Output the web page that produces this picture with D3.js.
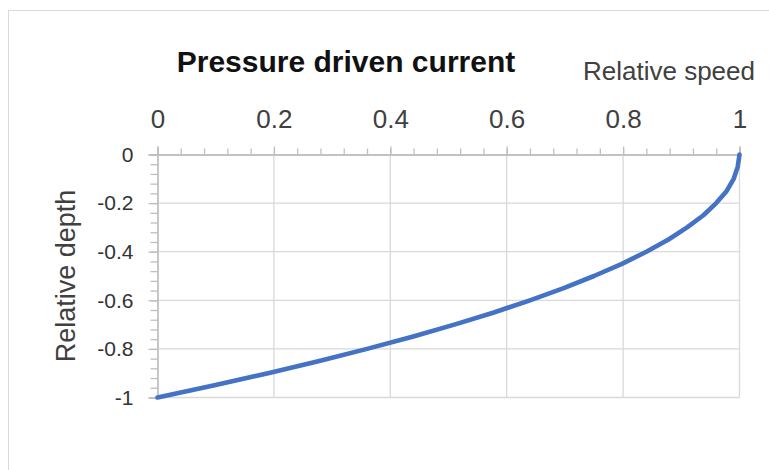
<!DOCTYPE html>
<html lang="en">
  <head>
    <meta charset="UTF-8" />
    <title>Pressure driven current</title>
    <style>
      body {
        margin: 0;
        background: #fff;
      }
      text {
        font-family: "Liberation Sans", Arial, sans-serif;
      }
    </style>
  </head>
  <body>
    <div id="chart"></div>

    <script src="https://cdn.jsdelivr.net/npm/d3@7"></script>

    <script>
      //////////////////////////////// Data ////////////////////////////////
      var depth = [0, -0.05, -0.1, -0.15, -0.2, -0.25, -0.3, -0.35, -0.4, -0.45, -0.5,
        -0.55, -0.6, -0.65, -0.7, -0.75, -0.8, -0.85, -0.9, -0.95, -1];
      var speed = [1, 0.997, 0.99, 0.978, 0.96, 0.938, 0.91, 0.878, 0.84, 0.798, 0.75,
        0.698, 0.64, 0.578, 0.51, 0.438, 0.36, 0.278, 0.19, 0.098, 0];
      var xTicks = [0, 0.2, 0.4, 0.6, 0.8, 1];
      var yTicks = [0, -0.2, -0.4, -0.6, -0.8, -1];

      var width = 769,
        height = 470;

      var svg = d3
        .select("#chart")
        .append("svg")
        .attr("width", width)
        .attr("height", height);

      svg.append("rect")
        .attr("width", width)
        .attr("height", height)
        .attr("fill", "#fff");

      //chart frame (runs off the right and bottom edge)
      svg.append("rect")
        .attr("x", 8.5)
        .attr("y", 10.5)
        .attr("width", 800)
        .attr("height", 500)
        .attr("fill", "none")
        .attr("stroke", "#d9d9d9");

      var x = d3.scaleLinear().domain([0, 1]).range([157.5, 739.5]);
      var y = d3.scaleLinear().domain([0, -1]).range([154.5, 397.5]);

      //minor ticks every 0.04
      var minor = d3.range(0, 26).map(function(i) { return i * 0.04; });
      var minorY = d3.range(0, 26).map(function(i) { return -i * 0.04; });

      ///////////////////////////// Gridlines /////////////////////////////
      svg.append("g")
        .selectAll("line")
        .data(xTicks.slice(1))
        .enter()
        .append("line")
        .attr("x1", function(d) { return x(d); })
        .attr("x2", function(d) { return x(d); })
        .attr("y1", y(0))
        .attr("y2", y(-1))
        .attr("stroke", "#d9d9d9")
        .attr("stroke-width", 1.3);

      svg.append("g")
        .selectAll("line")
        .data(yTicks.slice(1))
        .enter()
        .append("line")
        .attr("x1", x(0))
        .attr("x2", x(1))
        .attr("y1", function(d) { return y(d); })
        .attr("y2", function(d) { return y(d); })
        .attr("stroke", "#d9d9d9")
        .attr("stroke-width", 1.3);

      /////////////////////////////// Axes ///////////////////////////////
      var xMinor = svg.append("g")
        .attr("transform", "translate(0," + y(0) + ")")
        .call(d3.axisTop(x).tickValues(minor).tickSize(6).tickFormat(""));

      var xAxis = svg.append("g")
        .attr("transform", "translate(0," + y(0) + ")")
        .call(d3.axisTop(x).tickValues(xTicks).tickSize(8).tickPadding(19)
          .tickFormat(d3.format("")));

      var yMinor = svg.append("g")
        .attr("transform", "translate(" + x(0) + ",0)")
        .call(d3.axisLeft(y).tickValues(minorY).tickSize(7).tickFormat(""));

      var yAxis = svg.append("g")
        .attr("transform", "translate(" + x(0) + ",0)")
        .call(d3.axisLeft(y).tickValues(yTicks).tickSize(9).tickPadding(15)
          .tickFormat(d3.format("")));

      [xMinor, xAxis, yMinor, yAxis].forEach(function(g) {
        g.selectAll(".domain").attr("stroke", "#bfbfbf").attr("stroke-width", 1.3);
        g.selectAll(".tick line").attr("stroke", "#bfbfbf").attr("stroke-width", 1.3);
      });

      xAxis.selectAll("text")
        .style("font-size", "26px")
        .attr("fill", "#404040")
        .attr("font-family", "Liberation Sans");
      yAxis.selectAll("text")
        .style("font-size", "21px")
        .attr("fill", "#333")
        .attr("font-family", "Liberation Sans");
      yAxis.selectAll(".tick text").text(function(d) { return d === 0 ? "0" : d3.format("")(d).replace("−", "-"); });

      ////////////////////////////// Curve //////////////////////////////
      var points = depth.map(function(d, i) { return [speed[i], d]; });

      svg.append("path")
        .datum(points)
        .attr("d", d3.line()
          .x(function(d) { return x(d[0]); })
          .y(function(d) { return y(d[1]); }))
        .attr("fill", "none")
        .attr("stroke", "#4472c4")
        .attr("stroke-width", 4.6)
        .attr("stroke-linejoin", "round")
        .attr("stroke-linecap", "round");

      ////////////////////////////// Titles //////////////////////////////
      svg.append("text")
        .attr("x", 346)
        .attr("y", 72)
        .attr("text-anchor", "middle")
        .style("font-size", "30px")
        .style("font-weight", "bold")
        .attr("fill", "#111")
        .text("Pressure driven current");

      svg.append("text")
        .attr("x", 583)
        .attr("y", 80)
        .style("font-size", "26px")
        .attr("fill", "#404040")
        .text("Relative speed");

      svg.append("text")
        .attr("transform", "translate(75,276) rotate(-90)")
        .attr("text-anchor", "middle")
        .style("font-size", "27px")
        .attr("fill", "#404040")
        .text("Relative depth");
    </script>
  </body>
</html>
